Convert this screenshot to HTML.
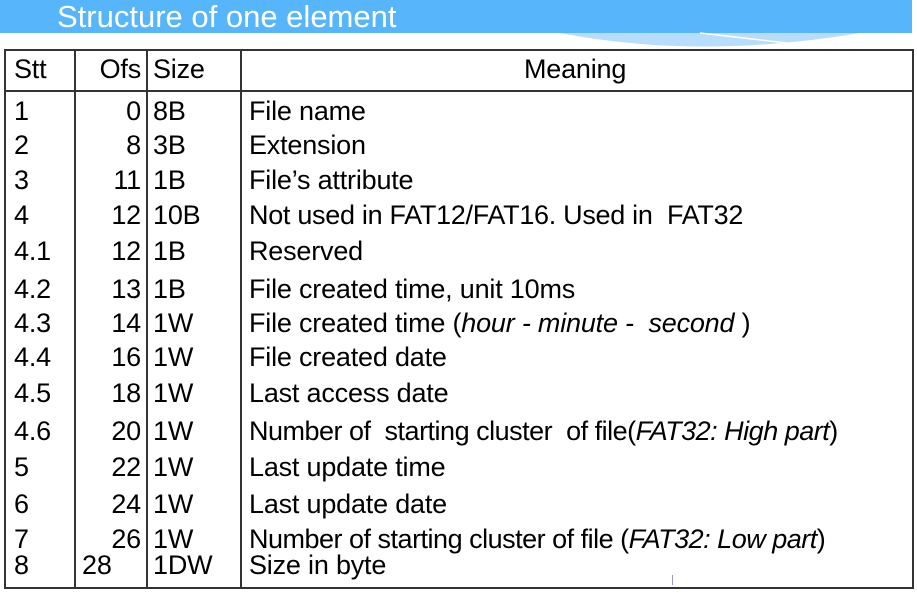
<!DOCTYPE html>
<html><head><meta charset="utf-8"><style>
body{margin:0;width:917px;height:600px;background:#fff;position:relative;overflow:hidden;font-family:"Liberation Sans",Arial,sans-serif;}
.t{position:absolute;font-size:27px;line-height:27px;white-space:nowrap;color:#000;letter-spacing:-0.2px}
.r{text-align:right;width:60px}
.v{position:absolute;background:#333;width:2px;top:49px;height:540px}
</style></head><body>
<div style="position:absolute;left:0;top:0;width:912px;height:33px;background:#57b5fb"></div>
<svg style="position:absolute;left:0;top:0" width="917" height="60"><path d="M560 33 Q700 60 860 33 Z" fill="#b8dcfb"/><path d="M700 33 L830 48" stroke="#fff" stroke-width="1.5"/></svg>
<div class="t" style="left:57px;top:1px;font-size:31px;line-height:31px;color:#fff;letter-spacing:0">Structure of one element</div>
<div style="position:absolute;left:4px;top:49px;width:906px;height:536px;border:2px solid #333"></div>
<div class="v" style="left:74px"></div><div class="v" style="left:146px"></div><div class="v" style="left:240px"></div>
<div style="position:absolute;left:4px;top:90px;width:910px;height:2px;background:#333"></div>
<div class="t" style="left:14px;top:56px">Stt</div>
<div class="t r" style="left:81px;top:56px">Ofs</div>
<div class="t" style="left:153px;top:56px">Size</div>
<div class="t" style="left:524px;top:56px">Meaning</div>

<div class="t" style="left:14px;top:98px">1</div><div class="t r" style="left:81px;top:98px">0</div><div class="t" style="left:153px;top:98px">8B</div><div class="t" style="left:249px;top:98px">File name</div>
<div class="t" style="left:14px;top:132px">2</div><div class="t r" style="left:81px;top:132px">8</div><div class="t" style="left:153px;top:132px">3B</div><div class="t" style="left:249px;top:132px">Extension</div>
<div class="t" style="left:14px;top:167px">3</div><div class="t r" style="left:81px;top:167px">11</div><div class="t" style="left:153px;top:167px">1B</div><div class="t" style="left:249px;top:167px">File’s attribute</div>
<div class="t" style="left:14px;top:202px">4</div><div class="t r" style="left:81px;top:202px">12</div><div class="t" style="left:153px;top:202px">10B</div><div class="t" style="left:249px;top:202px;letter-spacing:-0.3px">Not used in FAT12/FAT16. Used in&nbsp; FAT32</div>
<div class="t" style="left:14px;top:238px">4.1</div><div class="t r" style="left:81px;top:238px">12</div><div class="t" style="left:153px;top:238px">1B</div><div class="t" style="left:249px;top:238px">Reserved</div>
<div class="t" style="left:14px;top:276px">4.2</div><div class="t r" style="left:81px;top:276px">13</div><div class="t" style="left:153px;top:276px">1B</div><div class="t" style="left:249px;top:276px">File created time, unit 10ms</div>
<div class="t" style="left:14px;top:310px">4.3</div><div class="t r" style="left:81px;top:310px">14</div><div class="t" style="left:153px;top:310px">1W</div><div class="t" style="left:249px;top:310px">File created time (<i>hour - minute -&nbsp; second</i> )</div>
<div class="t" style="left:14px;top:344px">4.4</div><div class="t r" style="left:81px;top:344px">16</div><div class="t" style="left:153px;top:344px">1W</div><div class="t" style="left:249px;top:344px">File created date</div>
<div class="t" style="left:14px;top:380px">4.5</div><div class="t r" style="left:81px;top:380px">18</div><div class="t" style="left:153px;top:380px">1W</div><div class="t" style="left:249px;top:380px">Last access date</div>
<div class="t" style="left:14px;top:418px">4.6</div><div class="t r" style="left:81px;top:418px">20</div><div class="t" style="left:153px;top:418px">1W</div><div class="t" style="left:249px;top:418px;letter-spacing:-0.5px">Number of&nbsp; starting cluster&nbsp; of file(<i>FAT32: High part</i>)</div>
<div class="t" style="left:14px;top:454px">5</div><div class="t r" style="left:81px;top:454px">22</div><div class="t" style="left:153px;top:454px">1W</div><div class="t" style="left:249px;top:454px">Last update time</div>
<div class="t" style="left:14px;top:491px">6</div><div class="t r" style="left:81px;top:491px">24</div><div class="t" style="left:153px;top:491px">1W</div><div class="t" style="left:249px;top:491px">Last update date</div>
<div class="t" style="left:14px;top:526px">7</div><div class="t r" style="left:81px;top:526px">26</div><div class="t" style="left:153px;top:526px">1W</div><div class="t" style="left:249px;top:526px;letter-spacing:-0.5px">Number of starting cluster of file (<i>FAT32: Low part</i>)</div>
<div class="t" style="left:14px;top:552px">8</div><div class="t" style="left:82px;top:552px">28</div><div class="t" style="left:153px;top:552px">1DW</div><div class="t" style="left:249px;top:552px">Size in byte</div>
<div style="position:absolute;left:672px;top:575px;width:1px;height:10px;background:#99c"></div>
</body></html>
